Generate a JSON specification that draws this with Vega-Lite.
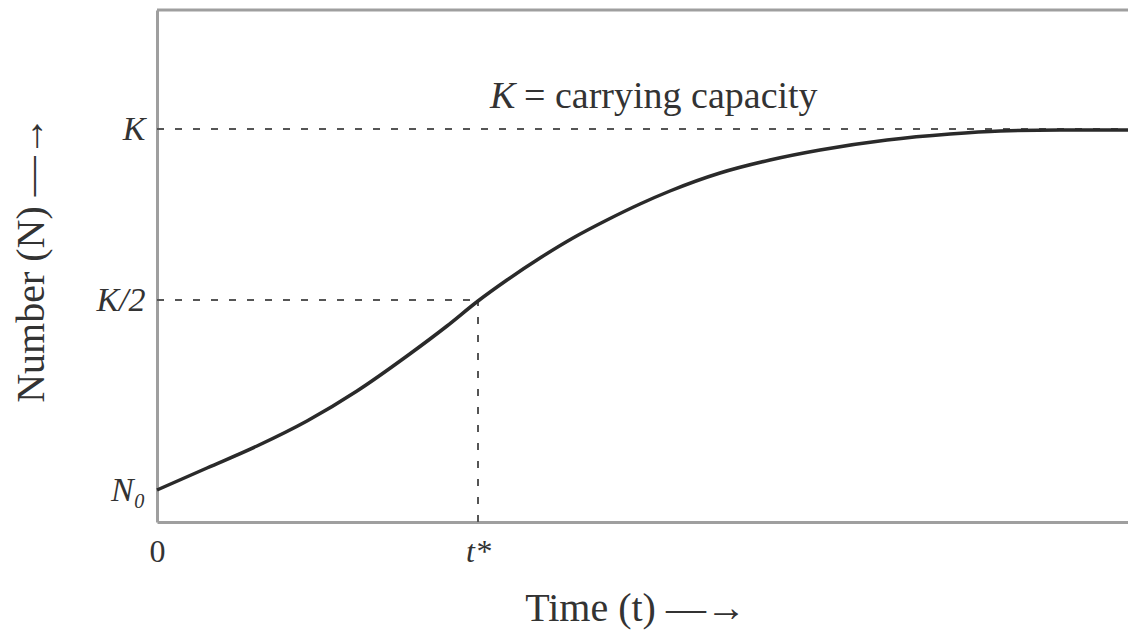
{
  "$schema": "https://vega.github.io/schema/vega-lite/v6.json",
  "autosize": "none",
  "width": 971,
  "height": 512,
  "padding": {"left": 157, "top": 10, "right": 0, "bottom": 111},
  "background": "white",
  "config": {
    "view": {"stroke": null},
    "font": "Liberation Serif",
    "axis": {"grid": false, "ticks": false, "domainColor": "#9f9f9f", "domainWidth": 3, "labelColor": "#333", "titleColor": "#333", "labelFont": "Liberation Serif", "titleFont": "Liberation Serif", "titleFontWeight": "normal"}
  },
  "datasets": {
    "curve": [
      {"t": 0, "n": 32}, {"t": 50, "n": 54}, {"t": 100, "n": 76}, {"t": 150, "n": 101},
      {"t": 200, "n": 131}, {"t": 250, "n": 166}, {"t": 290, "n": 196}, {"t": 321, "n": 221},
      {"t": 350, "n": 242}, {"t": 383, "n": 264}, {"t": 416, "n": 284}, {"t": 450, "n": 302},
      {"t": 483, "n": 318}, {"t": 513, "n": 331}, {"t": 563, "n": 349}, {"t": 613, "n": 362},
      {"t": 663, "n": 372}, {"t": 730, "n": 382}, {"t": 793, "n": 388}, {"t": 843, "n": 391},
      {"t": 903, "n": 392}, {"t": 971, "n": 392}
    ],
    "guides": [
      {"x": 0, "x2": 971, "y": 393, "y2": 393},
      {"x": 0, "x2": 321, "y": 222, "y2": 222},
      {"x": 321, "x2": 321, "y": 0, "y2": 222}
    ],
    "frame": [{"x": 0, "x2": 971, "y": 512}],
    "noteK": [{"x": 333, "y": 425, "label": "K"}],
    "noteRest": [{"x": 367, "y": 425, "label": "= carrying capacity"}]
  },
  "layer": [
    {
      "data": {"name": "guides"},
      "mark": {"type": "rule", "color": "#555", "strokeWidth": 2, "strokeDash": [7, 11]},
      "encoding": {
        "x": {"field": "x", "type": "quantitative", "scale": {"domain": [0, 971], "nice": false}},
        "x2": {"field": "x2"},
        "y": {"field": "y", "type": "quantitative", "scale": {"domain": [0, 512], "nice": false}},
        "y2": {"field": "y2"}
      }
    },
    {
      "data": {"name": "frame"},
      "mark": {"type": "rule", "color": "#9f9f9f", "strokeWidth": 3},
      "encoding": {
        "x": {"field": "x", "type": "quantitative"},
        "x2": {"field": "x2"},
        "y": {"field": "y", "type": "quantitative"}
      }
    },
    {
      "data": {"name": "curve"},
      "mark": {"type": "line", "color": "#2a2a2a", "strokeWidth": 3.5, "interpolate": "monotone"},
      "encoding": {
        "x": {
          "field": "t", "type": "quantitative",
          "axis": {
            "values": [0, 321],
            "labelExpr": "datum.value == 0 ? '0' : 't*'",
            "labelFlush": false,
            "labelFontSize": 32,
            "labelFontStyle": {"condition": {"test": "datum.value == 321", "value": "italic"}, "value": "normal"},
            "labelPadding": 14,
            "title": "Time (t) —→",
            "titleFontSize": 40,
            "titleX": 478,
            "titleY": 86,
            "titleAlign": "center",
            "titleBaseline": "middle"
          }
        },
        "y": {
          "field": "n", "type": "quantitative",
          "axis": {
            "values": [32, 222, 393],
            "labelExpr": "datum.value == 393 ? 'K' : datum.value == 222 ? 'K/2' : 'N₀'",
            "labelFontSize": 34,
            "labelFontStyle": "italic",
            "labelPadding": 12,
            "title": "Number (N) —→",
            "titleFontSize": 40,
            "titleAngle": -90,
            "titleX": -126,
            "titleY": 249,
            "titleAlign": "center",
            "titleBaseline": "middle"
          }
        }
      }
    },
    {
      "data": {"name": "noteK"},
      "mark": {"type": "text", "font": "Liberation Serif", "fontSize": 38, "fontStyle": "italic", "color": "#333", "align": "left", "baseline": "middle"},
      "encoding": {
        "x": {"field": "x", "type": "quantitative"},
        "y": {"field": "y", "type": "quantitative"},
        "text": {"field": "label"}
      }
    },
    {
      "data": {"name": "noteRest"},
      "mark": {"type": "text", "font": "Liberation Serif", "fontSize": 38, "color": "#333", "align": "left", "baseline": "middle"},
      "encoding": {
        "x": {"field": "x", "type": "quantitative"},
        "y": {"field": "y", "type": "quantitative"},
        "text": {"field": "label"}
      }
    }
  ]
}
